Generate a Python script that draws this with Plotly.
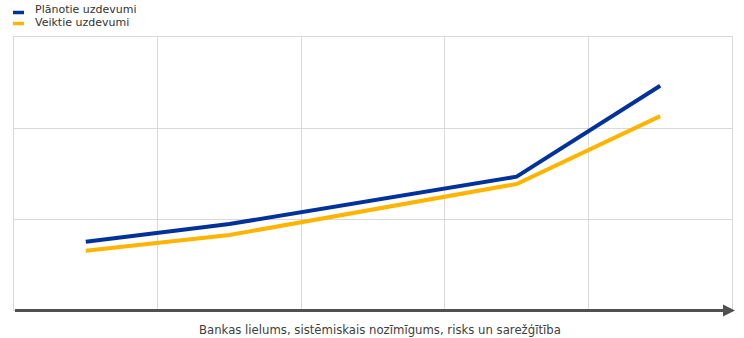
import plotly.graph_objects as go

# Data (positions along the "bank size / complexity" axis)
x_pos = [0.5, 1.5, 3.5, 4.5]
planned = [0.75, 0.945, 1.465, 2.465]
performed = [0.65, 0.824, 1.385, 2.13]

series_names = ["Plānotie uzdevumi", "Veiktie uzdevumi"]
colors = ["#003299", "#FFB400"]
x_title = "Bankas lielums, sistēmiskais nozīmīgums, risks un sarežģītība"

W, H = 744, 338
ML, MR, MT, MB = 14, 12, 37, 28
PW, PH = W - ML - MR, H - MT - MB


def px_x(px):
    return (px - ML) / PW


def px_y(py):
    return (H - MB - py) / PH


fig = go.Figure()
for name, vals, col in zip(series_names, [planned, performed], colors):
    fig.add_trace(go.Scatter(x=x_pos, y=vals, mode="lines", name=name,
                             line=dict(color=col, width=4), showlegend=False))

fig.update_layout(
    width=W, height=H,
    margin=dict(l=ML, r=MR, t=MT, b=MB, autoexpand=False),
    paper_bgcolor="white", plot_bgcolor="white",
    font=dict(family="DejaVu Sans, Arial, sans-serif", size=11, color="#333333"),
    showlegend=False,
    xaxis=dict(range=[0, 5], dtick=1, tick0=0, showgrid=True, gridcolor="#d9d9d9",
               gridwidth=1, showticklabels=False, zeroline=False,
               showline=True, mirror=True, linecolor="#d9d9d9", linewidth=1,
               fixedrange=True),
    yaxis=dict(range=[0, 3], dtick=1, tick0=0, showgrid=True, gridcolor="#d9d9d9",
               gridwidth=1, showticklabels=False, zeroline=False,
               showline=True, mirror=True, linecolor="#d9d9d9", linewidth=1,
               fixedrange=True),
)

# Manual legend (short dashes + labels)
legend_rows = [(12.5, 10), (23.5, 23)]  # (dash y px, text y px)
for (dy, ty), name, col in zip(legend_rows, series_names, colors):
    fig.add_shape(type="line", xref="paper", yref="paper",
                  x0=px_x(13), x1=px_x(24), y0=px_y(dy), y1=px_y(dy),
                  line=dict(color=col, width=3.5))
    fig.add_annotation(x=px_x(33), y=px_y(ty), xref="paper", yref="paper",
                       xanchor="left", yanchor="middle", showarrow=False,
                       text=name, font=dict(family="DejaVu Sans, Arial, sans-serif",
                                            size=11, color="#333333"))

# Axis arrow (line + head)
fig.add_shape(type="line", xref="paper", yref="paper",
              x0=px_x(15), x1=px_x(725), y0=px_y(310.5), y1=px_y(310.5),
              line=dict(color="#505050", width=3), layer="above")
hx0, hx1 = px_x(723), px_x(735)
hy_top, hy_mid, hy_bot = px_y(304.5), px_y(310.5), px_y(316.5)
fig.add_shape(type="path", xref="paper", yref="paper",
              path=f"M {hx0},{hy_top} L {hx1},{hy_mid} L {hx0},{hy_bot} Z",
              fillcolor="#505050", line=dict(color="#505050", width=0), layer="above")

# Axis title
fig.add_annotation(x=px_x(380.5), y=px_y(329.5), xref="paper", yref="paper",
                   xanchor="center", yanchor="middle", showarrow=False, text=x_title,
                   font=dict(family="DejaVu Sans, Arial, sans-serif", size=11.7,
                             color="#404040"))

fig.write_html("out.html")
